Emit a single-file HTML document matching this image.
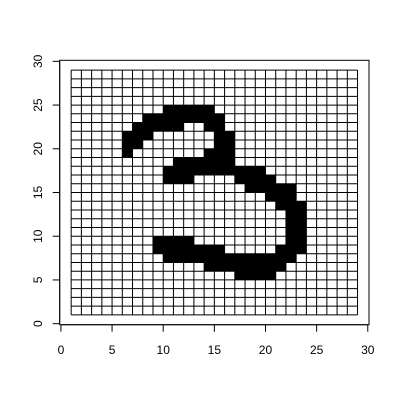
<!DOCTYPE html>
<html><head><meta charset="utf-8"><style>
html,body{margin:0;padding:0;background:#fff;}
svg{display:block;font-family:"Liberation Sans",sans-serif;}
</style></head><body>
<svg id="chart" width="400" height="400" viewBox="0 0 400 400"></svg>
<script>
// Filled cells per row: [row, colStart, colEnd]
const rowIndex = [24,23,22,22,21,21,20,20,19,19,18,17,16,16,15,14,13,12,11,10,9,9,8,8,7,6,5];
const colStarts = [10,8,7,14,6,15,6,15,6,14,11,10,10,17,18,20,21,22,22,22,9,22,9,21,10,14,17];
const colEnds = [14,15,11,15,8,16,7,16,6,16,16,19,12,20,22,22,23,23,23,23,12,23,15,23,22,21,20];
const gridMin = 1, gridMax = 29;
const xTicks = [0,5,10,15,20,25,30];
const yTicks = [0,5,10,15,20,25,30];

const NS = "http://www.w3.org/2000/svg";
const svg = document.getElementById('chart');
const L = 59.7, R = 369, T = 60.3, B = 324.7;
const dmin = -0.12, dmax = 30.12;
const sx = v => L + (v - dmin) / (dmax - dmin) * (R - L);
const sy = v => B - (v - dmin) / (dmax - dmin) * (B - T);
function mk(tag, attrs, parent) {
  const e = document.createElementNS(NS, tag);
  for (const k in attrs) e.setAttribute(k, attrs[k]);
  (parent || svg).appendChild(e);
  return e;
}
const cells = mk('g', {});


for (let i = 0; i < rowIndex.length; i++) {
  const r = rowIndex[i];
  const x0 = sx(colStarts[i]), x1 = sx(colEnds[i] + 1);
  const rc = mk('rect', {x: x0, y: sy(r + 1), width: x1 - x0, height: sy(r) - sy(r + 1), fill: '#000'}, cells);
  
  
}
const grid = mk('g', {stroke: '#000', 'stroke-width': 1});


for (let v = gridMin; v <= gridMax; v++) {
  mk('line', {x1: sx(v), x2: sx(v), y1: sy(gridMin), y2: sy(gridMax)}, grid);
  mk('line', {x1: sx(gridMin), x2: sx(gridMax), y1: sy(v), y2: sy(v)}, grid);
}
const box = mk('rect', {x: L, y: T, width: R - L, height: B - T, fill: 'none', stroke: '#000', 'stroke-width': 1});


const xa = mk('g', {});


mk('line', {x1: sx(xTicks[0]), x2: sx(xTicks[xTicks.length - 1]), y1: B, y2: B, stroke: '#000'}, xa);
xTicks.forEach(t => {
  mk('line', {x1: sx(t), x2: sx(t), y1: B, y2: B + 7, stroke: '#000'}, xa);
  const tx = mk('text', {x: sx(t), y: 354, 'font-size': 12, 'text-anchor': 'middle'}, xa);
  tx.textContent = t;
  
  
});
const ya = mk('g', {});


mk('line', {x1: L, x2: L, y1: sy(yTicks[0]), y2: sy(yTicks[yTicks.length - 1]), stroke: '#000'}, ya);
yTicks.forEach(t => {
  mk('line', {x1: L - 7, x2: L, y1: sy(t), y2: sy(t), stroke: '#000'}, ya);
  const tx = mk('text', {x: 0, y: 0, 'font-size': 12, 'text-anchor': 'middle', transform: 'translate(42,' + sy(t) + ') rotate(-90)'}, ya);
  tx.textContent = t;
  
  
});
</script>
</body></html>
